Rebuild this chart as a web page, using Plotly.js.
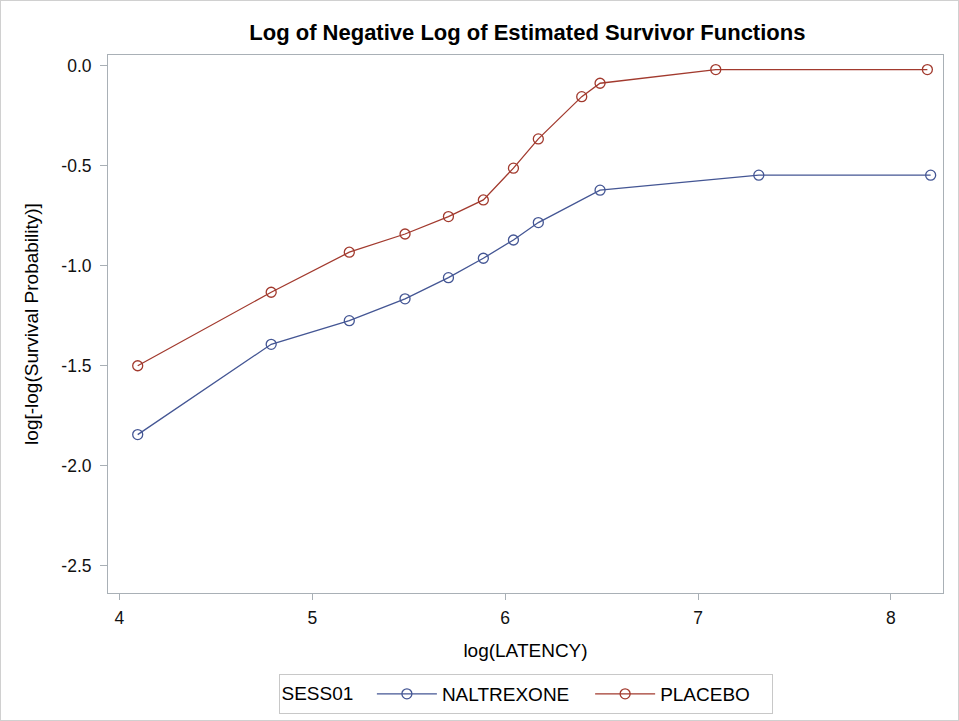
<!DOCTYPE html>
<html>
<head>
<meta charset="utf-8">
<script src="https://cdn.plot.ly/plotly-3.0.1.min.js"></script>
<style>
html,body{margin:0;padding:0;background:#fff;}
#chart{width:957px;height:719px;border:1px solid #d0d0d0;}
</style>
</head>
<body>
<div id="chart"></div>
<script>
const naltrexoneX = [4.095, 4.787, 5.192, 5.481, 5.706, 5.887, 6.043, 6.172, 6.492, 7.315, 8.206];
const naltrexoneY = [-1.844, -1.393, -1.275, -1.166, -1.060, -0.963, -0.872, -0.785, -0.623, -0.548, -0.548];
const placeboX = [4.095, 4.787, 5.192, 5.481, 5.706, 5.887, 6.043, 6.172, 6.397, 6.492, 7.092, 8.189];
const placeboY = [-1.500, -1.133, -0.933, -0.842, -0.755, -0.672, -0.513, -0.367, -0.156, -0.089, -0.021, -0.021];
const xTicks = [4, 5, 6, 7, 8];
const yTicks = [0, -0.5, -1, -1.5, -2, -2.5];
const yTickText = ['0.0', '-0.5', '-1.0', '-1.5', '-2.0', '-2.5'];
const groupNames = ['NALTREXONE', 'PLACEBO'];

const font = 'Liberation Sans, Arial, sans-serif';
const pad = '\u00a0\u00a0\u00a0';
const traces = [
  {x: naltrexoneX, y: naltrexoneY, name: groupNames[0] + pad, mode: 'lines+markers', type: 'scatter',
   line: {color: '#445694', width: 1.3},
   marker: {symbol: 'circle-open', size: 10, color: '#445694', line: {width: 1.3}}},
  {x: placeboX, y: placeboY, name: groupNames[1] + pad, mode: 'lines+markers', type: 'scatter',
   line: {color: '#A23A2E', width: 1.3},
   marker: {symbol: 'circle-open', size: 10, color: '#A23A2E', line: {width: 1.3}}}
];
const layout = {
  width: 957, height: 719,
  margin: {l: 107, r: 15, t: 54, b: 127},
  paper_bgcolor: '#fff', plot_bgcolor: '#fff',
  font: {family: font, size: 17.5, color: '#000'},
  title: {text: '<b>Log of Negative Log of Estimated Survivor Functions</b>', x: 0.55, xanchor: 'center', y: 0.957, yanchor: 'middle',
          font: {family: font, size: 22, color: '#000'}},
  xaxis: {range: [3.941, 8.27], tickvals: xTicks, ticktext: xTicks.map(String),
          showgrid: false, zeroline: false, showline: true, mirror: true, linecolor: '#a9b0b6', linewidth: 1,
          ticks: 'outside', ticklen: 6, tickcolor: '#a9b0b6', ticklabelstandoff: 3,
          tickfont: {family: font, size: 17.5, color: '#111'},
          title: {text: 'log(LATENCY)', font: {family: font, size: 19}, standoff: 16}},
  yaxis: {range: [-2.635, 0.052], tickvals: yTicks, ticktext: yTickText,
          showgrid: false, zeroline: false, showline: true, mirror: true, linecolor: '#a9b0b6', linewidth: 1,
          ticks: 'outside', ticklen: 7, tickcolor: '#a9b0b6', ticklabelstandoff: 5,
          tickfont: {family: font, size: 17.5, color: '#111'},
          title: {text: 'log[-log(Survival Probability)]', font: {family: font, size: 19}, standoff: 17}},
  showlegend: true,
  legend: {orientation: 'h', x: 0.5, xanchor: 'center', yref: 'container', y: 0.064, yanchor: 'top',
           bordercolor: '#c8c8c8', borderwidth: 1, bgcolor: '#fff',
           font: {family: font, size: 19},
           title: {text: 'SESS01  ', font: {family: font, size: 19}, side: 'left'},
           itemwidth: 60, tracegroupgap: 0}
};
Plotly.newPlot('chart', traces, layout, {displayModeBar: false, staticPlot: true});
</script>
</body>
</html>
